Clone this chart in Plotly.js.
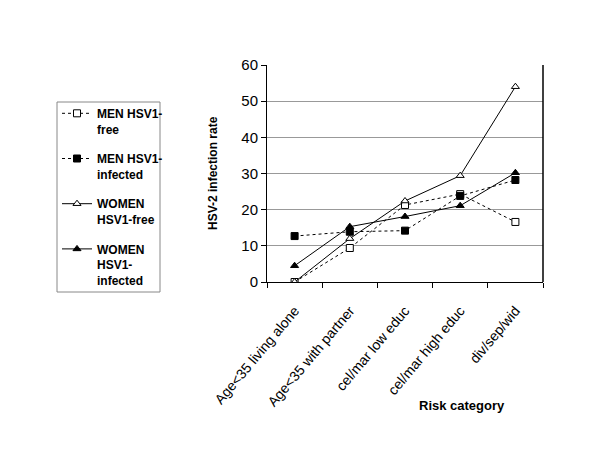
<!DOCTYPE html>
<html><head><meta charset="utf-8">
<script src="https://cdn.plot.ly/plotly-3.0.1.min.js"></script>
<style>body{margin:0;background:#fff}#c{width:600px;height:450px}</style>
</head><body><div id="c"></div>
<script>
const categories = ["Age<35 living alone","Age<35 with partner","cel/mar low educ","cel/mar high educ","div/sep/wid"];
const menFree = [0, 9.4, 21.3, 24.3, 16.6];
const menInfected = [12.7, 13.9, 14.2, 23.8, 28.2];
const womenFree = [0, 12.0, 22.4, 29.4, 54.0];
const womenInfected = [4.5, 15.3, 18.1, 21.1, 30.2];
const seriesNames = ["MEN HSV1-<br>free","MEN HSV1-<br>infected","WOMEN<br>HSV1-free","WOMEN<br>HSV1-<br>infected"];

const F = "Liberation Sans, Arial, sans-serif";
function tr(y, name, dash, sym, fill, g){
  return {x: categories, y: y, name: name, type:'scatter', mode:'lines+markers', legendgroup:g,
    line:{color:'#000', width:1, dash:dash},
    marker:{symbol:sym, size:7, color: fill, line:{color:'#000', width:1}}};
}
const data = [
  tr(menFree, seriesNames[0], 'dot', 'square', '#fff', 'a'),
  tr(menInfected, seriesNames[1], 'dot', 'square', '#000', 'b'),
  tr(womenFree, seriesNames[2], 'solid', 'triangle-up', '#fff', 'c'),
  tr(womenInfected, seriesNames[3], 'solid', 'triangle-up', '#000', 'd')
];
const px = v => (v-267)/276, py = v => (282-v)/217;
const layout = {
  width:600, height:450, paper_bgcolor:'#fff', plot_bgcolor:'#fff',
  margin:{l:267, r:57, t:65, b:168},
  showlegend:true,
  legend:{x:px(57), xanchor:'left', y:py(99), yanchor:'top', bgcolor:'rgba(0,0,0,0)', borderwidth:0,
    font:{family:F, size:12, color:'#000', weight:'bold'}, tracegroupgap:11, itemwidth:30, valign:'top'},
  xaxis:{type:'category', range:[-0.5,4.5], tickangle:-50, tickson:'boundaries', ticks:'outside', ticklen:5, tickcolor:'#000',
    showline:true, linecolor:'#000', linewidth:1, showgrid:false, mirror:false, ticklabelstandoff:14,
    tickfont:{family:F, size:14, color:'#000'}},
  yaxis:{range:[0,60], dtick:10, ticks:'outside', ticklen:5, tickcolor:'#000', showline:true, linecolor:'#000', linewidth:1,
    gridcolor:'#999', gridwidth:1, zeroline:false,
    tickfont:{family:F, size:15, color:'#000'}},
  shapes:[
    {type:'line', xref:'paper', yref:'paper', x0:1, x1:1, y0:0, y1:1, line:{color:'#000', width:1.5}},
    {type:'rect', xref:'paper', yref:'paper', x0:px(57), x1:px(160), y0:py(102), y1:py(292), line:{color:'#888', width:1}}
  ],
  annotations:[
    {text:'<b>HSV-2 infection rate</b>', xref:'paper', yref:'paper', x:px(213), y:py(173), xanchor:'center', yanchor:'middle',
      textangle:-90, showarrow:false, font:{family:F, size:12, color:'#000'}},
    {text:'<b>Risk category</b>', xref:'paper', yref:'paper', x:px(462), y:py(405), xanchor:'center', yanchor:'middle',
      showarrow:false, font:{family:F, size:13, color:'#000'}}
  ]
};
Plotly.newPlot('c', data, layout, {displayModeBar:false});
</script></body></html>
